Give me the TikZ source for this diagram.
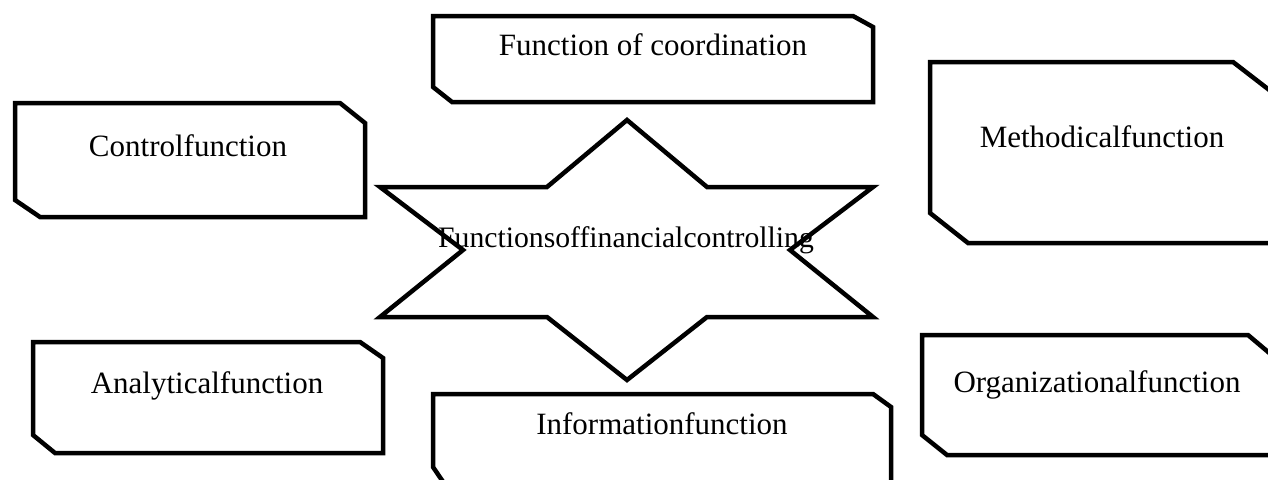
\documentclass[tikz,border=0pt]{standalone}
\usepackage{fontspec}
\setmainfont{Liberation Serif}
\tikzset{
  shapeline/.style={draw=black, line width=4.5pt, line join=miter, fill=white},
  lbl/.style={font=\fontsize{31}{36}\selectfont, inner sep=0pt, anchor=base, text=black}
}
\begin{document}
\begin{tikzpicture}[x=1pt,y=-1pt]
\useasboundingbox (0,0) rectangle (1268,479);
\clip (0,0) rectangle (1268,479);
\fill[white] (0,0) rectangle (1268,479);
% Control
\draw[shapeline] (15,103) -- (340,103) -- (365,123) -- (365,217) -- (40,217) -- (15,200) -- cycle;
% Coordination
\draw[shapeline] (433,16) -- (853,16) -- (873,27) -- (873,102) -- (452,102) -- (433,87) -- cycle;
% Methodical
\draw[shapeline] (930,62) -- (1233,62) -- (1290,106) -- (1290,243) -- (968,243) -- (930,213) -- cycle;
% Analytical
\draw[shapeline] (33,342) -- (360,342) -- (383,358) -- (383,453) -- (55,453) -- (33,435) -- cycle;
% Information
\draw[shapeline] (433,394) -- (873,394) -- (891,407) -- (891,495) -- (452,495) -- (433,467) -- cycle;
% Organizational
\draw[shapeline] (922,335) -- (1248,335) -- (1280,362) -- (1280,455) -- (947,455) -- (922,435) -- cycle;
% Star
\draw[shapeline] (627,120) -- (707,187) -- (873,187) -- (790,250) -- (873,317) -- (707,317) -- (627,380) -- (547,317) -- (380,317) -- (463,250) -- (380,187) -- (547,187) -- cycle;
% Labels
\node[lbl] (control) at (188,156) {Controlfunction};
\node[lbl] (coord) at (653,55) {Function of coordination};
\node[lbl] (method) at (1102,147) {Methodicalfunction};
\node[lbl, font=\fontsize{29.7}{34}\selectfont] (center) at (626,247) {Functionsoffinancialcontrolling};
\node[lbl] (analyt) at (207,393) {Analyticalfunction};
\node[lbl] (inform) at (662,434) {Informationfunction};
\node[lbl] (organ) at (1097,392) {Organizationalfunction};
\end{tikzpicture}
\end{document}
